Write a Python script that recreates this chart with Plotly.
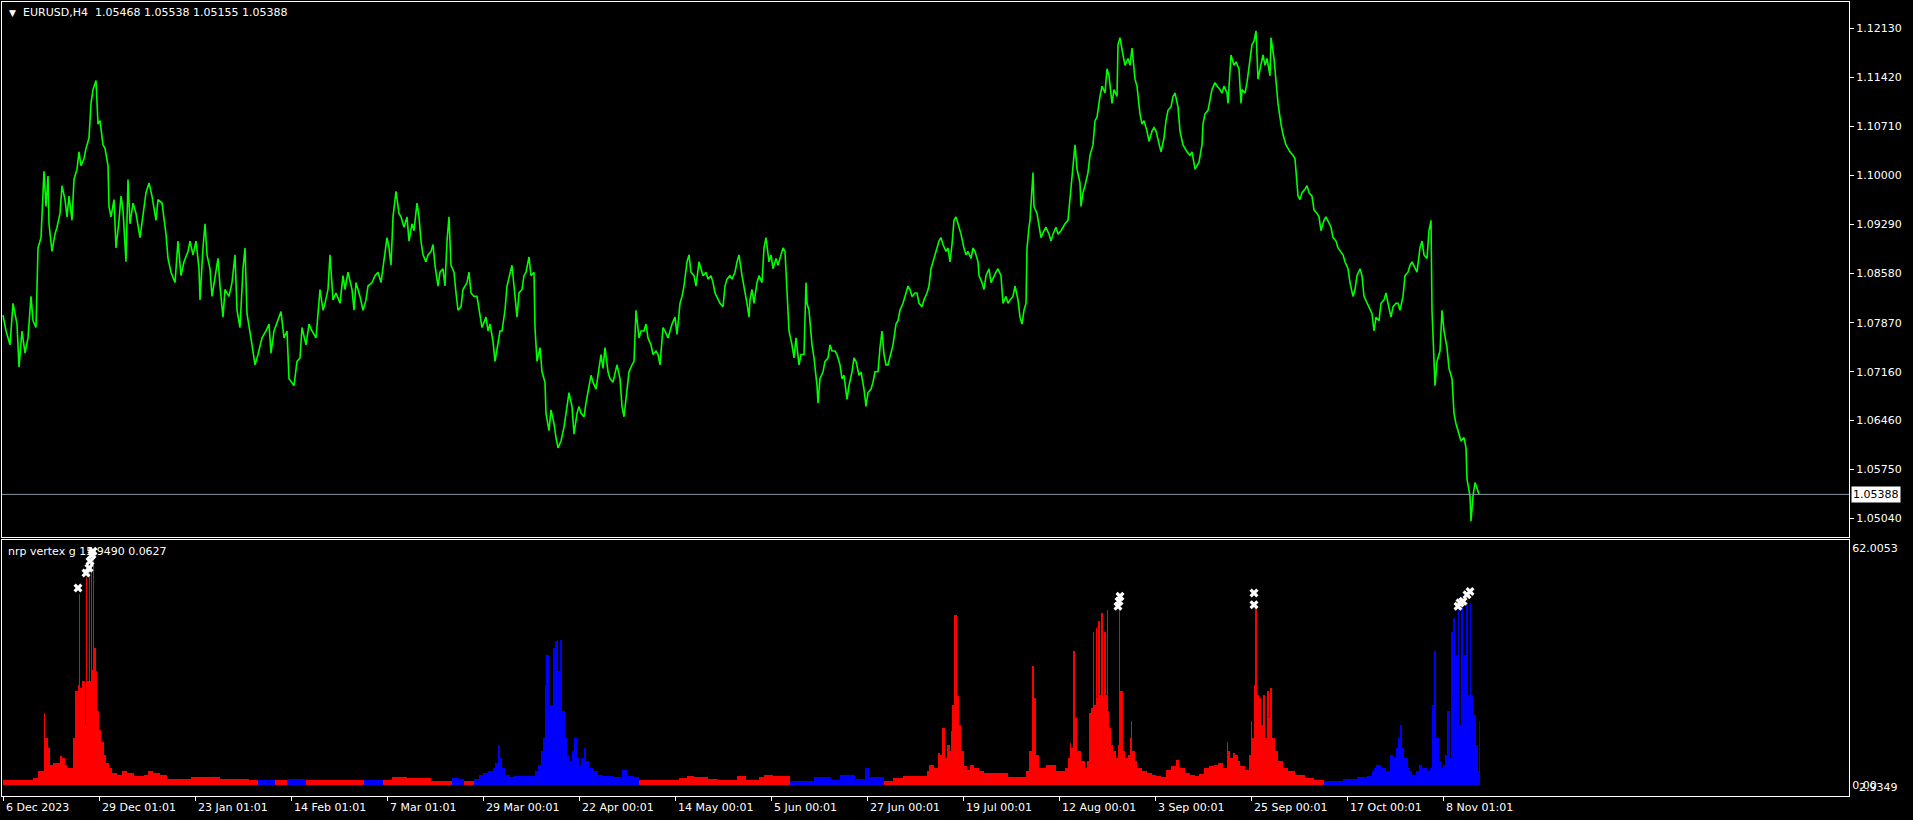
import plotly.graph_objects as go

# ---------------- data ----------------
title_symbol = "EURUSD,H4"
title_ohlc = "1.05468 1.05538 1.05155 1.05388"
last_close = 1.05388
ind_title = "nrp vertex g 15.9490 0.0627"

price_ticks = [1.12130, 1.11420, 1.10710, 1.10000, 1.09290, 1.08580,
               1.07870, 1.07160, 1.06460, 1.05750, 1.05040]
price_tick_text = ["1.12130", "1.11420", "1.10710", "1.10000", "1.09290", "1.08580",
                   "1.07870", "1.07160", "1.06460", "1.05750", "1.05040"]

date_tick_bars = [0, 96, 192, 288, 384, 480, 576, 672, 768, 864, 960, 1056, 1152, 1248, 1344, 1440]
date_tick_text = ["6 Dec 2023", "29 Dec 01:01", "23 Jan 01:01", "14 Feb 01:01", "7 Mar 01:01",
                  "29 Mar 00:01", "22 Apr 00:01", "14 May 00:01", "5 Jun 00:01", "27 Jun 00:01",
                  "19 Jul 00:01", "12 Aug 00:01", "3 Sep 00:01", "25 Sep 00:01", "17 Oct 00:01",
                  "8 Nov 01:01"]

ind_max_label = "62.0053"
ind_zero_label = "0.00"
ind_extra_label = "2.9349"
ind_max = 62.0053

price_bar = [0,3,7,10,14,16,19,22,25,28,30,33,35,38,41,43,45,46,49,52,54,57,59,62,64,66,69,71,74,76,78,81,83,86,88,90,93,95,97,100,
             102,105,106,108,111,113,116,118,120,123,125,127,130,133,137,140,143,146,149,153,155,159,161,163,165,168,172,175,178,181,
             185,187,190,193,196,197,200,202,204,207,209,212,215,217,220,222,226,229,232,234,237,240,242,244,247,249,252,255,259,263,
             266,268,271,275,278,281,284,286,289,291,294,297,299,303,306,309,313,315,317,320,322,325,327,330,333,337,340,342,345,349,
             351,353,357,360,363,365,369,372,375,378,381,384,386,388,390,393,396,398,401,404,406,409,411,414,416,418,420,423,425,428,
             430,432,435,437,440,442,444,446,448,451,453,455,458,460,464,466,468,471,474,476,479,483,485,487,490,492,495,497,499,502,
             504,507,509,511,514,516,519,521,523,526,528,531,532,534,537,539,542,543,546,548,551,553,555,558,561,563,566,569,571,574,
             576,578,581,583,586,588,590,593,595,598,600,602,605,607,610,612,614,617,619,621,624,626,629,631,633,636,638,641,643,645,
             648,650,653,655,657,660,662,665,667,669,672,674,677,679,681,684,686,688,691,693,696,698,700,703,705,708,710,712,715,717,
             720,722,724,727,729,732,734,736,739,741,744,746,
             747,749,751,754,756,759,761,763,766,768,770,773,775,778,780,782,785,786,789,791,793,796,798,801,803,804,806,809,811,814,
             815,817,820,822,825,827,829,832,834,837,839,841,844,846,849,851,853,856,858,861,863,865,868,870,872,875,877,879,881,883,
             885,888,890,893,895,897,900,902,905,907,909,912,914,916,919,921,924,926,928,931,933,936,938,940,943,945,947,949,951,953,
             956,958,961,963,965,968,970,972,975,976,979,981,983,986,988,991,993,995,998,1000,1003,1005,1007,1010,1012,1015,1017,1019,1021,1023,
             1024,1026,1027,1030,1031,1034,1036,1038,1041,1043,1046,1048,1050,1053,1055,1058,1060,1062,1065,1066,1068,1070,1072,1074,1077,1078,1080,1082,1085,1087,
             1090,1092,1094,1097,1099,1102,1104,1106,1109,1111,1114,1115,1117,1120,1122,1125,1127,1129,1132,1134,1137,1139,1141,1144,1146,1149,1151,1153,1156,1158,
             1161,1163,1165,1168,1170,1172,1175,1177,1180,1182,1184,1187,1189,1192,1194,1196,1199,1200,1202,1205,1207,1209,1212,1214,1217,1219,1221,1224,1225,1227,
             1228,1231,1233,1236,1238,1239,1242,1244,1247,1249,1251,1253,1255,1257,1260,1262,1264,1267,1268,1271,1273,1275,1278,1280,1283,1285,1287,1290,1292,1295,
             1297,1299,1302,1304,1306,1309,1311,1314,1316,1318,1321,1323,1326,1328,1330,1333,1335,1338,1340,1342,1345,1347,1350,1352,1354,1357,1359,1361,1364,1366,
             1369,1371,1373,1376,1378,1381,1383,1385,1388,1390,1393,1395,1397,1400,1402,1405,1407,1409,1412,1414,1417,1419,1421,1424,1426,1428,1429,1431,1432,1434,
             1437,1439,1441,1444,1446,1449,1451,1453,1456,1458,1461,1463,1464,1467,1468,1470,1472,1475,1476]

price_close = [1.0798,1.0775,1.0755,1.0815,1.0785,1.0723,1.0775,1.0743,1.0765,1.0825,1.0790,1.0780,1.0895,1.0910,1.1006,1.0955,1.0999,1.0930,1.0890,1.0915,
               1.0925,1.0945,1.0985,1.0965,1.0940,1.0970,1.0935,1.0994,1.1009,1.1034,1.1014,1.1024,1.1039,1.1054,1.1104,1.1124,1.1137,1.1074,1.1079,1.1044,
               1.1039,1.1014,1.0955,1.0940,1.0965,1.0895,1.0935,1.0970,1.0950,1.0875,1.0994,1.0930,1.0960,1.0945,1.0910,1.0945,1.0975,1.0989,1.0970,1.0935,
               1.0965,1.0960,1.0935,1.0915,1.0880,1.0860,1.0845,1.0905,1.0855,1.0875,1.0890,1.0905,1.0885,1.0905,1.0865,1.0820,1.0895,1.0930,1.0885,1.0865,
               1.0825,1.0850,1.0880,1.0840,1.0795,1.0835,1.0825,1.0845,1.0885,1.0805,1.0780,1.0865,1.0895,1.0800,1.0775,1.0755,1.0726,1.0741,1.0765,1.0775,
               1.0785,1.0743,1.0775,1.0790,1.0803,1.0765,1.0775,1.0706,1.0701,1.0696,1.0731,1.0736,1.0780,1.0755,1.0785,1.0775,1.0765,1.0795,1.0835,1.0805,
               1.0815,1.0835,1.0885,1.0820,1.0830,1.0815,1.0855,1.0835,1.0860,1.0835,1.0805,1.0845,1.0825,1.0805,1.0820,1.0840,1.0845,1.0855,1.0860,1.0845,
               1.0875,1.0910,1.0895,1.0870,1.0940,1.0977,1.0945,1.0940,1.0925,1.0940,1.0905,1.0930,1.0920,1.0960,1.0940,1.0905,1.0885,1.0875,1.0885,1.0890,
               1.0900,1.0870,1.0840,1.0860,1.0865,1.0840,1.0905,1.0940,1.0870,1.0860,1.0830,1.0805,1.0810,1.0835,1.0845,1.0860,1.0830,1.0825,1.0825,1.0805,
               1.0780,1.0795,1.0775,1.0785,1.0760,1.0731,1.0755,1.0775,1.0775,1.0805,1.0840,1.0860,1.0870,1.0840,1.0795,1.0830,1.0835,1.0855,1.0860,1.0882,
               1.0855,1.0860,1.0780,1.0731,1.0751,1.0716,1.0701,1.0656,1.0631,1.0661,1.0641,1.0621,1.0606,1.0616,1.0636,1.0656,1.0686,1.0666,1.0626,1.0656,
               1.0666,1.0656,1.0651,1.0671,1.0696,1.0711,1.0701,1.0691,1.0711,1.0741,1.0721,1.0751,1.0716,1.0706,1.0701,1.0716,1.0726,1.0706,1.0666,1.0651,
               1.0696,1.0716,1.0726,1.0731,1.0805,1.0765,1.0775,1.0775,1.0785,1.0765,1.0755,1.0741,1.0746,1.0741,1.0726,1.0780,1.0775,1.0765,1.0775,1.0785,
               1.0795,1.0770,1.0815,1.0825,1.0840,1.0875,1.0885,1.0860,1.0855,1.0840,1.0875,1.0865,1.0855,1.0860,1.0850,1.0855,1.0845,1.0830,1.0820,1.0815,
               1.0810,1.0840,1.0850,1.0855,1.0850,1.0860,1.0875,1.0885,1.0855,1.0840,1.0815,1.0795,
               1.0820,1.0835,1.0815,1.0845,1.0855,1.0845,1.0895,1.0910,1.0875,1.0885,1.0865,1.0880,1.0870,1.0885,1.0895,1.0890,1.0805,1.0775,1.0755,1.0736,
               1.0765,1.0726,1.0741,1.0741,1.0845,1.0815,1.0805,1.0755,1.0736,1.0696,1.0671,1.0706,1.0716,1.0731,1.0736,1.0755,1.0746,1.0746,1.0741,1.0726,
               1.0706,1.0711,1.0676,1.0696,1.0716,1.0736,1.0731,1.0711,1.0716,1.0691,1.0666,1.0686,1.0691,1.0701,1.0716,1.0716,1.0751,1.0775,1.0741,1.0726,
               1.0726,1.0746,1.0755,1.0785,1.0790,1.0805,1.0815,1.0825,1.0840,1.0835,1.0825,1.0830,1.0830,1.0815,1.0810,1.0820,1.0830,1.0840,1.0865,1.0880,
               1.0890,1.0905,1.0910,1.0900,1.0890,1.0895,1.0875,1.0900,1.0935,1.0940,1.0925,1.0915,1.0895,1.0885,1.0890,1.0880,1.0895,1.0890,1.0875,1.0855,
               1.0845,1.0835,1.0855,1.0865,1.0845,1.0855,1.0860,1.0865,1.0855,1.0815,1.0825,1.0815,1.0820,1.0825,1.0840,1.0820,1.0795,1.0785,1.0805,1.0815,
               1.0895,1.0925,1.0935,1.1004,1.0955,1.0945,1.0930,1.0910,1.0920,1.0925,1.0915,1.0905,1.0915,1.0925,1.0915,1.0920,1.0925,1.0930,1.0935,1.0950,
               1.0989,1.1014,1.1044,1.1009,1.0989,1.0955,1.0975,1.0985,1.1004,1.1029,1.1044,1.1079,1.1084,1.1114,1.1129,1.1119,1.1154,1.1144,1.1104,1.1124,
               1.1114,1.1189,1.1199,1.1174,1.1159,1.1169,1.1159,1.1184,1.1139,1.1129,1.1089,1.1074,1.1079,1.1064,1.1049,1.1064,1.1069,1.1064,1.1044,1.1034,
               1.1054,1.1079,1.1094,1.1099,1.1114,1.1119,1.1099,1.1064,1.1044,1.1039,1.1034,1.1029,1.1034,1.1009,1.1014,1.1019,1.1044,1.1074,1.1089,1.1094,
               1.1109,1.1124,1.1134,1.1129,1.1124,1.1119,1.1129,1.1119,1.1104,1.1149,1.1174,1.1159,1.1164,1.1154,1.1104,1.1124,1.1119,1.1134,1.1164,1.1189,
               1.1194,1.1209,1.1139,1.1154,1.1174,1.1159,1.1169,1.1144,1.1199,1.1169,1.1134,1.1104,1.1074,1.1059,1.1044,1.1039,1.1034,1.1029,1.1024,1.0970,
               1.0965,1.0975,1.0980,1.0985,1.0975,1.0970,1.0950,1.0945,1.0940,1.0920,1.0935,1.0940,1.0930,1.0925,1.0910,1.0905,1.0895,1.0890,1.0885,1.0875,
               1.0865,1.0845,1.0825,1.0835,1.0855,1.0865,1.0855,1.0825,1.0815,1.0810,1.0800,1.0775,1.0795,1.0790,1.0815,1.0820,1.0830,1.0815,1.0795,1.0810,
               1.0815,1.0815,1.0805,1.0825,1.0855,1.0860,1.0870,1.0875,1.0865,1.0860,1.0895,1.0905,1.0885,1.0880,1.0920,1.0935,1.0805,1.0731,1.0696,1.0731,
               1.0746,1.0805,1.0775,1.0751,1.0721,1.0706,1.0656,1.0641,1.0626,1.0616,1.0621,1.0606,1.0561,1.0536,1.0500,1.0536,1.0556,1.0541,1.0539]

# indicator histogram: bar number, value, colour side (R = red buffer, B = blue buffer)
hist_bar = [0,11,26,30,35,39,41,42,43,45,47,50,54,57,59,62,64,68,70,72,75,76,77,79,82,83,84,86,87,88,89,90,91,93,94,96,98,101,103,106,
            109,114,119,124,131,141,145,150,157,164,179,188,203,217,236,246,255,265,272,284,294,303,308,332,361,370,380,389,397,404,
            428,449,456,461,471,476,480,485,490,492,495,497,499,502,507,511,519,528,532,535,538,540,542,543,546,547,550,552,554,555,
            557,559,562,564,566,569,571,574,576,578,581,583,586,590,595,600,610,619,624,631,636,667,676,684,691,705,715,724,734,743,
            751,756,761,770,782,787,799,811,821,828,837,845,852,859,862,866,876,881,890,900,919,924,926,931,935,937,939,942,944,947,
            948,949,951,953,954,956,958,961,964,967,971,976,981,998,1005,1019,1023,1026,1029,1031,1033,1036,1043,1053,1062,1065,1067,1068,1070,1072,
            1074,1078,1082,1084,1086,1088,1090,1091,1093,1094,1095,1097,1098,1100,1101,1103,1104,1105,1106,1108,1110,1113,1115,1116,1117,1120,1122,1125,1127,1128,
            1129,1132,1134,1139,1144,1149,1153,1158,1163,1168,1173,1176,1182,1187,1192,1196,1201,1206,1211,1215,1220,1224,1225,1227,1230,1232,1235,1237,1242,1246,
            1248,1249,1251,1252,1254,1256,1258,1260,1262,1264,1266,1267,1269,1272,1275,1280,1285,1292,1302,1311,1321,1340,1354,1364,1369,1371,1373,1378,1383,1387,
            1390,1393,1395,1397,1399,1401,1405,1407,1409,1413,1416,1419,1424,1427,1429,1431,1433,1436,1438,1440,1442,1444,1447,1448,1450,1452,1453,1455,1456,1458,
            1460,1461,1463,1464,1465,1467,1468,1470,1473,1475,1476]

hist_val = [1.1,1.1,1.2,1.7,3.5,3.5,18.8,12.2,12.2,9.6,5.2,5.7,5.7,7.4,7.0,5.2,4.4,4.4,12.2,24.4,26.2,50.0,25.3,27.1,15.7,54.5,27.1,56.0,27.1,58.0,
            30.0,60.3,35.8,29.7,19.2,14.4,11.3,7.9,5.7,4.4,3.1,2.6,3.5,3.1,2.4,2.6,3.5,3.1,2.6,1.6,1.6,1.9,1.9,1.4,1.4,1.2,1.1,1.1,1.1,1.6,
            1.4,1.1,1.1,1.2,1.3,1.3,1.2,2.1,1.9,1.7,1.0,1.7,1.6,1.0,1.6,2.6,3.0,3.5,4.4,5.7,10.5,7.0,4.4,2.6,2.1,2.4,2.2,2.2,3.5,5.2,
            8.7,12.2,26.2,34.0,17.5,20.9,35.8,37.5,38.0,29.7,38.0,19.2,12.2,7.9,6.1,8.7,12.2,7.0,5.2,7.0,9.6,6.1,4.4,3.5,2.6,2.2,2.1,3.9,2.4,1.9,
            1.1,1.1,1.7,2.4,1.9,1.6,1.2,1.1,2.2,1.3,1.3,1.9,2.6,2.2,2.2,1.0,1.0,1.9,1.9,1.3,2.6,2.6,1.6,1.6,4.4,1.9,1.9,1.0,1.7,2.2,
            2.2,3.5,5.2,4.4,8.3,7.9,14.8,7.0,10.5,8.7,14.0,20.9,44.5,44.5,23.1,15.7,8.7,4.8,3.9,5.2,4.4,3.5,3.1,3.1,1.9,1.9,3.5,8.7,31.0,22.7,
            7.9,4.4,5.2,3.5,4.4,7.0,10.9,9.6,34.9,17.5,8.7,6.1,4.4,6.1,18.8,20.1,40.1,20.9,41.0,22.7,42.8,23.6,44.9,23.1,40.1,23.6,45.8,19.2,14.8,10.5,
            8.7,7.0,10.5,46.2,24.4,8.7,7.0,7.9,12.2,16.6,8.7,6.1,4.4,3.5,3.1,2.6,2.4,1.9,3.9,4.8,6.5,4.4,3.1,2.6,2.4,2.8,4.4,4.8,5.2,5.7,
            4.4,11.3,8.7,7.0,8.3,7.9,6.1,4.8,3.9,7.9,16.6,12.2,26.2,46.2,23.6,22.7,15.7,23.6,12.2,24.4,17.5,25.3,12.2,8.7,6.1,4.4,3.5,2.6,1.7,1.3,
            1.0,1.6,1.9,2.4,3.5,4.4,5.2,4.4,3.5,7.9,7.0,9.6,12.2,15.7,9.6,7.0,4.4,3.5,2.6,3.5,5.2,4.4,3.5,4.4,20.9,34.9,12.2,6.1,4.4,5.2,
            7.9,19.2,7.0,40.1,43.6,22.7,34.0,46.2,15.7,46.2,24.4,34.0,47.1,48.5,23.6,47.6,23.6,18.3,10.5,3.5,16.6]

hist_side = (["R"] * 56
             + ["B", "B", "R", "B", "B", "R", "R", "R", "B", "B", "R", "R", "R", "R", "R", "B", "B", "R"]
             + ["B"] * 46
             + ["R"] * 15
             + ["B"] * 12
             + ["R"] * 123
             + ["B"] * 51)

marker_bar = [75, 83, 86, 87, 89, 90, 1115, 1116, 1117, 1251, 1251, 1455, 1457, 1460, 1464, 1467]
marker_val = [51.5, 55.4, 56.7, 58.5, 60.2, 61.1, 46.7, 48.0, 49.3, 47.1, 50.2, 46.7, 47.6, 48.0, 49.7, 50.6]

# ---------------- figure ----------------
W, H = 1913, 820
FONT = "DejaVu Sans"
side_color = {"R": "#FF0000", "B": "#0000FF"}

widths = [hist_bar[i + 1] - hist_bar[i] for i in range(len(hist_bar) - 1)] + [1]
colors = [side_color[s] for s in hist_side[:len(hist_bar)]]
while len(colors) < len(hist_bar):
    colors.append(side_color["B"])

fig = go.Figure()
fig.add_trace(go.Scatter(x=price_bar, y=price_close, mode="lines",
                         line=dict(color="#00FF00", width=1.6), xaxis="x", yaxis="y",
                         hoverinfo="skip"))
fig.add_trace(go.Bar(x=hist_bar, y=hist_val, width=widths, offset=0,
                     marker=dict(color=colors, line=dict(width=0)),
                     xaxis="x2", yaxis="y2", hoverinfo="skip"))
fig.add_trace(go.Scatter(x=marker_bar, y=marker_val, mode="markers",
                         marker=dict(symbol="x", size=8, color="white", line=dict(width=0)),
                         xaxis="x2", yaxis="y2", hoverinfo="skip"))

xdom = [2 / W, 1849 / W]
xrange_ = [-1, 1846]
fig.update_layout(
    width=W, height=H, margin=dict(l=0, r=0, t=0, b=0),
    paper_bgcolor="black", plot_bgcolor="black", showlegend=False,
    font=dict(family=FONT, size=11, color="white"),
    bargap=0,
    xaxis=dict(domain=xdom, range=xrange_, anchor="y", showline=True, mirror=True,
               linecolor="white", linewidth=1, showgrid=False, zeroline=False,
               showticklabels=False, ticks=""),
    yaxis=dict(domain=[1 - 537 / H, 1 - 2 / H], range=[1.04772, 1.12506], side="right",
               showline=True, mirror=True, linecolor="white", linewidth=1,
               showgrid=False, zeroline=False, ticks="outside", ticklen=4, tickcolor="white",
               tickvals=price_ticks, ticktext=price_tick_text,
               tickfont=dict(family=FONT, size=11, color="white")),
    xaxis2=dict(domain=xdom, range=xrange_, anchor="y2", showline=True, mirror=True,
                linecolor="white", linewidth=1, showgrid=False, zeroline=False,
                ticks="outside", ticklen=4, tickcolor="white", tickvals=date_tick_bars,
                showticklabels=False),
    yaxis2=dict(domain=[1 - 796 / H, 1 - 540 / H], range=[-2.96, 64.06], side="right",
                showline=True, mirror=True, linecolor="white", linewidth=1,
                showgrid=False, zeroline=False, ticks="",
                tickvals=[ind_max, 0], ticktext=[ind_max_label, ind_zero_label],
                tickfont=dict(family=FONT, size=11, color="white")),
)

# current price line and label
fig.add_shape(type="line", xref="paper", yref="y", x0=2 / W, x1=1849 / W,
              y0=last_close, y1=last_close, line=dict(color="#8A96A3", width=1))
fig.add_annotation(xref="paper", yref="y", x=1851 / W, y=last_close, xanchor="left",
                   yanchor="middle", text=f"{last_close:.5f}", showarrow=False,
                   bgcolor="white", borderpad=1,
                   font=dict(family=FONT, size=11, color="black"))

# title texts
fig.add_annotation(xref="paper", yref="paper", x=7 / W, y=1 - 12.5 / H, xanchor="left",
                   yanchor="middle", text="▼", showarrow=False,
                   font=dict(family=FONT, size=9, color="white"))
fig.add_annotation(xref="paper", yref="paper", x=21 / W, y=1 - 12.5 / H, xanchor="left",
                   yanchor="middle", text=title_symbol, showarrow=False,
                   font=dict(family=FONT, size=11, color="white"))
fig.add_annotation(xref="paper", yref="paper", x=93 / W, y=1 - 12.5 / H, xanchor="left",
                   yanchor="middle", text=title_ohlc, showarrow=False,
                   font=dict(family=FONT, size=11, color="white"))
fig.add_annotation(xref="paper", yref="paper", x=6 / W, y=1 - 551 / H, xanchor="left",
                   yanchor="middle", text=ind_title, showarrow=False,
                   font=dict(family=FONT, size=11, color="white"))
fig.add_annotation(xref="paper", yref="y2", x=1857 / W, y=-0.8, xanchor="left",
                   yanchor="middle", text=ind_extra_label, showarrow=False,
                   font=dict(family=FONT, size=11, color="white"))

# date labels, left-aligned on their ticks
for b, t in zip(date_tick_bars, date_tick_text):
    fig.add_annotation(xref="x2", yref="paper", x=b, y=1 - 807 / H, xanchor="left",
                       yanchor="middle", xshift=1, text=t, showarrow=False,
                       font=dict(family=FONT, size=11, color="white"))

fig.write_html("out.html",
               config={"displayModeBar": False},
               post_script="document.body.style.margin='0px';"
                           "document.body.style.overflow='hidden';")
